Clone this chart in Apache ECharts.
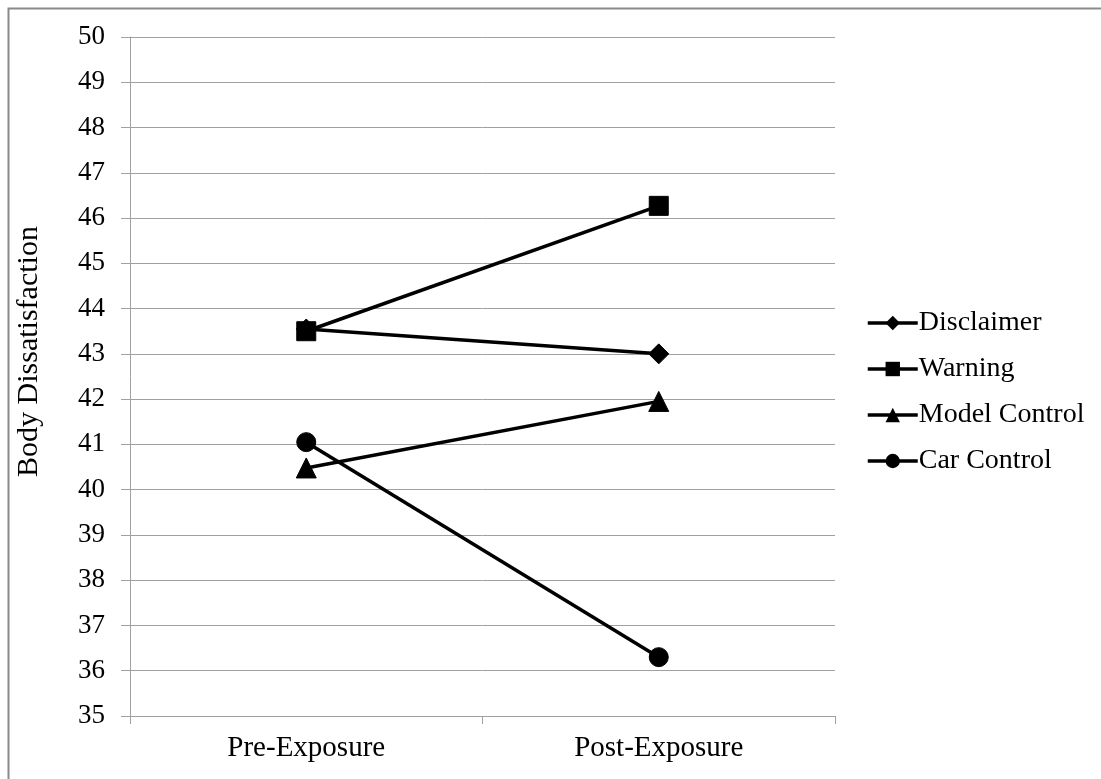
<!DOCTYPE html>
<html><head><meta charset="utf-8">
<script src="https://cdn.jsdelivr.net/npm/echarts@6/dist/echarts.min.js"></script>
<style>html,body{margin:0;padding:0;background:#fff}#c{width:1101px;height:779px}</style>
</head><body><div id="c"></div>
<script>
const categories = ['Pre-Exposure', 'Post-Exposure'];
const seriesNames = ['Disclaimer', 'Warning', 'Model Control', 'Car Control'];
const disclaimer = [43.55, 43.0];
const warning = [43.5, 46.27];
const modelControl = [40.48, 41.95];
const carControl = [41.05, 36.3];
const yTicks = [35, 36, 37, 38, 39, 40, 41, 42, 43, 44, 45, 46, 47, 48, 49, 50];

const font = '"Liberation Serif", "Times New Roman", serif';
const symbols = ['diamond', 'rect', 'triangle', 'circle'];
const sizes = [20, 19, 20, 19];
const data = [disclaimer, warning, modelControl, carControl];

const chart = echarts.init(document.getElementById('c'));
chart.setOption({
  animation: false,
  backgroundColor: '#fff',
  textStyle: { fontFamily: font },
  graphic: [{ type: 'rect', shape: { x: 8.5, y: 8.5, width: 1200, height: 900 }, style: { fill: 'none', stroke: '#8a8a8a', lineWidth: 2 }, silent: true }],
  grid: { left: 130, right: 266, top: 37, bottom: 63 },
  legend: {
    orient: 'vertical', left: 861, top: 304, itemGap: 18, itemWidth: 50, itemHeight: 18,
    lineStyle: { width: 3.5 },
    textStyle: { fontFamily: font, fontSize: 28, lineHeight: 28, color: '#000', padding: [0, 0, 0, -4] },
    data: seriesNames
  },
  xAxis: {
    type: 'category', data: categories, boundaryGap: true,
    axisLine: { lineStyle: { color: '#a0a0a0', width: 1 } },
    axisTick: { show: true, length: 8, lineStyle: { color: '#a0a0a0' } },
    axisLabel: { fontFamily: font, fontSize: 29, color: '#000', margin: 18 }
  },
  yAxis: {
    type: 'value', min: yTicks[0], max: yTicks[yTicks.length - 1], interval: 1,
    name: 'Body Dissatisfaction', nameLocation: 'middle', nameGap: 86, nameRotate: 90,
    nameTextStyle: { fontFamily: font, fontSize: 30, color: '#000', padding: [0, 0, 0, 50] },
    axisLine: { show: true, lineStyle: { color: '#a0a0a0', width: 1 } },
    axisTick: { show: true, length: 9, lineStyle: { color: '#a0a0a0' } },
    axisLabel: { fontFamily: font, fontSize: 27, color: '#000', margin: 25 },
    splitLine: { show: true, lineStyle: { color: '#a0a0a0', width: 1 } }
  },
  series: seriesNames.map((n, i) => ({
    name: n, type: 'line', data: data[i],
    symbol: symbols[i], symbolSize: sizes[i], showSymbol: true,
    lineStyle: { color: '#000', width: 3.5 },
    itemStyle: { color: '#000', borderColor: '#000' }
  }))
});
</script></body></html>
